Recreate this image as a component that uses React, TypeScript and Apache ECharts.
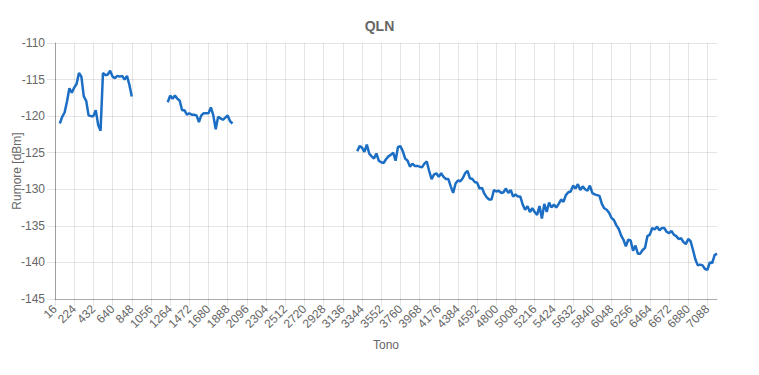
import React, { useEffect, useRef } from "react";
import * as echarts from "echarts";

// Tone axis: first tone, step between samples, number of samples
const toneStart = 16;
const toneStep = 26;
const toneCount = 277;

// Measured segments (start tone + QLN values in dBm)
const seg1Start = 68;
const seg1 = [
  -121, -120.1, -119.5, -118, -116.2, -116.8, -116.1, -115.6, -114.1, -114.6,
  -117.3, -117.9, -119.9, -120, -120, -119.2, -121.2, -122, -114.1, -114.4,
  -114.3, -113.8, -114.6, -114.8, -114.5, -114.6, -114.5, -115, -114.5, -115.7,
  -117.3,
];

const seg2Start = 1238;
const seg2 = [
  -118.1, -117.2, -117.6, -117.2, -117.6, -117.9, -119.2, -119.2, -119.8, -119.6,
  -119.8, -119.8, -119.9, -120.8, -119.9, -119.6, -119.6, -119.6, -118.8, -119.9,
  -121.8, -120.1, -120.3, -120.5, -120.2, -119.9, -120.7, -121,
];

const seg3Start = 3292;
const seg3 = [
  -124.8, -124.1, -124.3, -124.9, -123.9, -125.1, -125.5, -125.8, -125.1, -126.1,
  -126.3, -126.4, -125.9, -125.5, -125.3, -125.0, -126.1, -124.2, -124.1, -124.8,
  -125.8, -126.1, -126.9, -126.5, -126.8, -126.8, -126.9, -127.0, -126.5, -126.2,
  -127.5, -128.6, -128.0, -127.8, -128.3, -127.8, -128.3, -128.6, -128.6, -129.6,
  -130.5, -129.2, -128.8, -128.9, -128.5, -127.8, -127.5, -128.5, -128.6, -129.0,
  -129.1, -129.9, -129.8, -130.6, -131.1, -131.4, -131.4, -130.1, -130.3, -130.2,
  -130.5, -130.4, -129.9, -130.5, -130.1, -131.0, -130.7, -131.0, -131.0, -132.1,
  -132.8, -132.3, -133.1, -132.6, -133.1, -133.5, -132.3, -134.0, -132.0, -133.1,
  -131.8, -132.5, -132.1, -132.5, -132.0, -131.4, -131.7, -130.8, -130.4, -130.3,
  -129.5, -129.9, -129.3, -130.1, -129.6, -130.0, -130.2, -129.5, -130.5, -130.7,
  -130.8, -130.9, -132.0, -132.6, -132.8, -133.2, -133.9, -134.2, -134.9, -135.4,
  -136.3, -136.9, -137.8, -136.9, -137.0, -138.4, -137.7, -138.8, -138.8, -138.3,
  -138.0, -136.4, -136.2, -135.3, -135.5, -135.1, -135.6, -135.3, -135.3, -135.8,
  -136.0, -135.7, -136.2, -136.4, -136.8, -136.7, -137.2, -137.5, -136.8, -137.1,
  -138.3, -139.6, -140.4, -140.3, -140.4, -140.9, -141.0, -140.0, -140.1, -139.0,
  -138.8,
];

const yMin = -145;
const yMax = -110;
const yStep = 5;

const categories: string[] = [];
for (let i = 0; i < toneCount; i++) categories.push(String(toneStart + i * toneStep));

function buildSeries(): (number | null)[] {
  const out: (number | null)[] = new Array(toneCount).fill(null);
  const put = (start: number, vals: number[]) => {
    const idx = (start - toneStart) / toneStep;
    vals.forEach((v, k) => {
      out[idx + k] = v;
    });
  };
  put(seg1Start, seg1);
  put(seg2Start, seg2);
  put(seg3Start, seg3);
  return out;
}

const FONT = "'Liberation Sans', Arial, Helvetica, sans-serif";
const GRID_COLOR = "rgba(0,0,0,0.1)";
const TEXT = "#666";

export default function App() {
  const ref = useRef<HTMLDivElement>(null);
  useEffect(() => {
    document.body.style.margin = "0";
    if (!ref.current) return;
    const chart = echarts.init(ref.current, undefined, { renderer: "svg" });
    chart.setOption({
      animation: false,
      backgroundColor: "#fff",
      textStyle: { fontFamily: FONT },
      title: {
        text: "QLN",
        left: "center",
        top: 14,
        textStyle: { fontSize: 14, fontWeight: "bold", color: TEXT, fontFamily: FONT },
      },
      grid: { left: 55, right: 42, top: 43, bottom: 76, outerBoundsMode: "none" },
      xAxis: {
        type: "category",
        data: categories,
        boundaryGap: false,
        name: "Tono",
        nameLocation: "middle",
        nameGap: 40,
        nameMoveOverlap: false,
        nameTextStyle: { color: TEXT, fontSize: 12, fontFamily: FONT },
        axisLine: { show: true, lineStyle: { color: "rgba(0,0,0,0.25)" } },
        axisTick: { show: true, interval: 7, length: 7, lineStyle: { color: GRID_COLOR } },
        axisLabel: {
          interval: 7,
          rotate: 45,
          color: TEXT,
          fontSize: 12,
          fontFamily: FONT,
          margin: 8,
        },
        splitLine: { show: true, interval: 7, lineStyle: { color: GRID_COLOR } },
      },
      yAxis: {
        type: "value",
        min: yMin,
        max: yMax,
        interval: yStep,
        name: "Rumore [dBm]",
        nameLocation: "middle",
        nameGap: 32,
        nameMoveOverlap: false,
        nameTextStyle: { color: TEXT, fontSize: 12, fontFamily: FONT },
        axisLine: { show: true, lineStyle: { color: "rgba(0,0,0,0.3)" } },
        axisTick: { show: true, length: 8, lineStyle: { color: GRID_COLOR } },
        axisLabel: { color: TEXT, fontSize: 12, fontFamily: FONT, margin: 10 },
        splitLine: { show: true, lineStyle: { color: GRID_COLOR } },
      },
      series: [
        {
          type: "line",
          data: buildSeries(),
          showSymbol: false,
          connectNulls: false,
          lineStyle: { width: 2.5, color: "#1b6ec4" },
          itemStyle: { color: "#1b6ec4" },
        },
      ],
    });
    return () => chart.dispose();
  }, []);
  return <div ref={ref} style={{ width: 759, height: 375 }} />;
}
